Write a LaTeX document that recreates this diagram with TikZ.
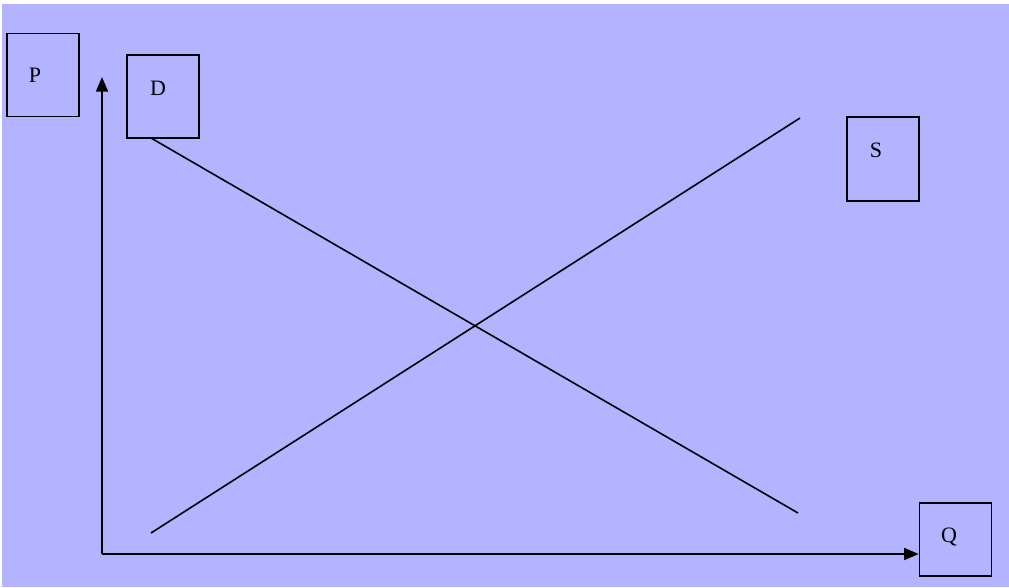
\documentclass[tikz,border=0pt]{standalone}
\usepackage{fontspec}
\setmainfont{Liberation Serif}
\usetikzlibrary{arrows.meta}
\definecolor{bg}{HTML}{B3B3FF}
\begin{document}
\begin{tikzpicture}[x=0.75pt,y=-0.75pt,
  lbox/.style={draw=black,line width=1.2pt,minimum width=0.75pt*72,minimum height=0.75pt*83,inner sep=0pt},
  lbl/.style={inner sep=0pt,font=\fontsize{16.5pt}{18pt}\selectfont},
  axis/.style={line width=1.5pt,-{Triangle[length=11pt,width=9pt]}},
  curve/.style={line width=1.2pt}]
\useasboundingbox (0,0) rectangle (1009,587);
\fill[white] (0,0) rectangle (1009,587);
\fill[bg] (2,4) rectangle (1009,587);
% boxes
\node[lbox] (P) at (43,75) {};
\node[lbl] (Pl) at (35,75) {P};
\node[lbox,minimum height=0.75pt*83] (D) at (163,96.5) {};
\node[lbl] (Dl) at (158,88) {D};
\node[lbox,minimum height=0.75pt*84] (S) at (883,159) {};
\node[lbl] (Sl) at (876,150) {S};
\node[lbox,minimum height=0.75pt*73] (Q) at (955.5,539.5) {};
\node[lbl] (Ql) at (949,537) {Q};
% axes
\coordinate (O) at (102,554);
\coordinate (Ytip) at (102,77);
\draw[axis] (O) -- (Ytip);
\draw[axis] (O) -- (O -| Q.west);
% curves
\coordinate (d1) at (151,138);
\coordinate (d2) at (798,513);
\coordinate (s1) at (151,533);
\coordinate (s2) at (800,118);
\draw[curve] (d1) -- (d2);
\draw[curve] (s1) -- (s2);
\end{tikzpicture}
\end{document}
